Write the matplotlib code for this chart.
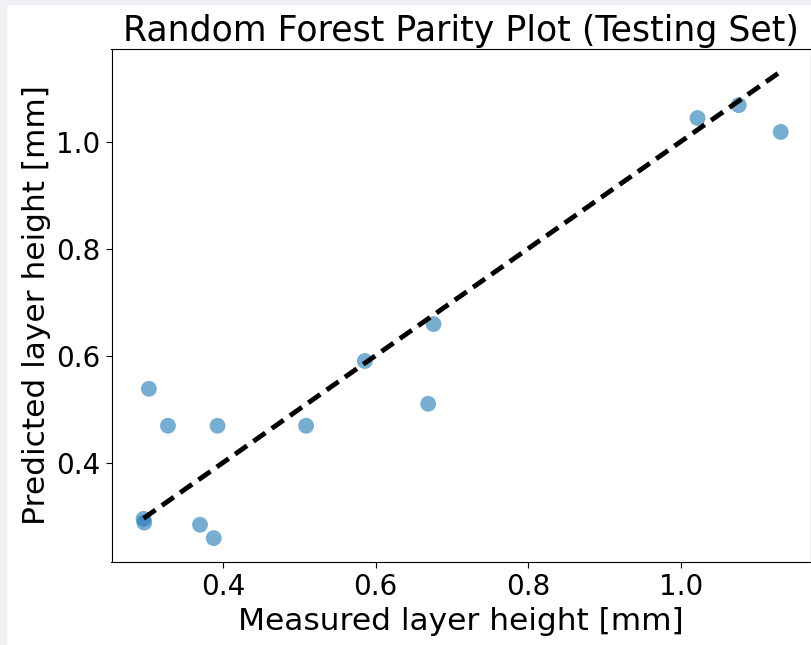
import matplotlib
matplotlib.use("Agg")
import matplotlib.pyplot as plt
from matplotlib.patches import Rectangle

measured = [0.296, 0.297, 0.303, 0.328, 0.393, 0.370, 0.388, 0.509, 0.586, 0.669, 0.676, 1.022, 1.076, 1.131]
predicted = [0.295, 0.288, 0.538, 0.469, 0.469, 0.284, 0.259, 0.469, 0.590, 0.510, 0.659, 1.044, 1.068, 1.018]

fig = plt.figure(figsize=(8.12, 6.45), dpi=100)
fig.patch.set_facecolor("white")
fig.patches.append(Rectangle((0, 0), 6 / 812, 1, transform=fig.transFigure, color="#eef0f4", zorder=-1))
fig.patches.append(Rectangle((0, 1 - 4 / 645), 1, 4 / 645, transform=fig.transFigure, color="#eef0f4", zorder=-1))

ax = fig.add_axes([111.5 / 812, (645 - 562) / 645, (810.5 - 111.5) / 812, (562 - 49) / 645])
ax.scatter(measured, predicted, s=130, alpha=0.6, color="C0", edgecolors="none")
lo, hi = min(measured), max(measured)
ax.plot([lo, hi], [lo, hi], "k--", lw=3.5, dashes=(3, 1.6))
ax.set_xlim(0.254, 1.170)
ax.set_ylim(0.2144, 1.173)
ax.set_xticks([0.4, 0.6, 0.8, 1.0])
ax.set_yticks([0.4, 0.6, 0.8, 1.0])
ax.tick_params(labelsize=20, length=4.4)
ax.set_xlabel("Measured layer height [mm]", fontsize=22.5, labelpad=4)
ax.set_ylabel("Predicted layer height [mm]", fontsize=22.5, labelpad=4)
ax.set_title("Random Forest Parity Plot (Testing Set)", fontsize=25, pad=6)
fig.savefig("out.png", dpi=100)
